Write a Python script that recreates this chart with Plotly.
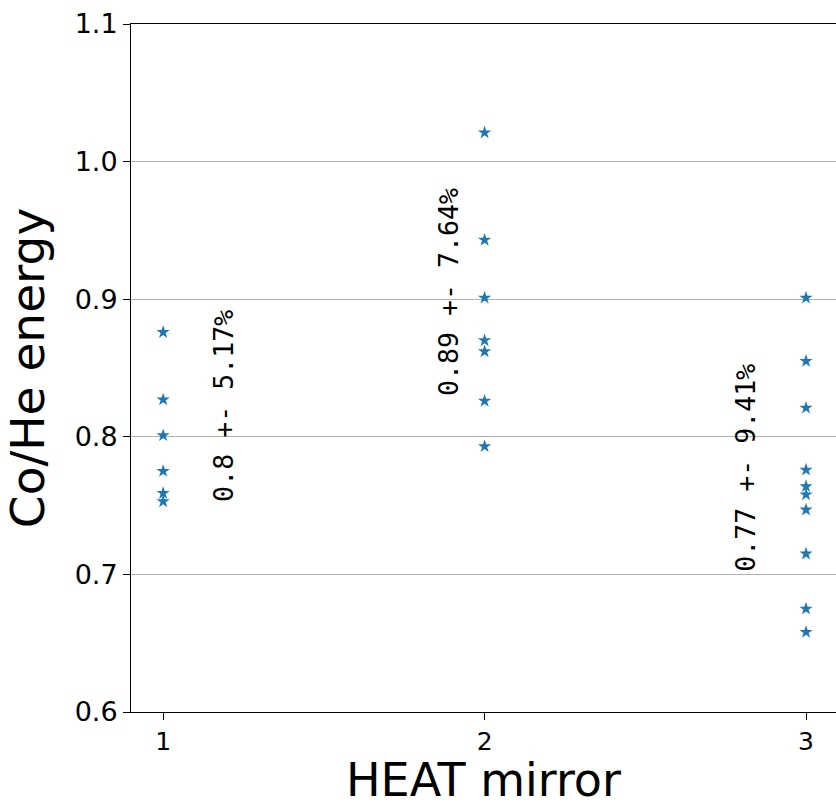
import plotly.graph_objects as go

# Measured Co/He energy ratio for each HEAT mirror
mirror_ids = [1, 2, 3]
mirror1_energy = [0.876, 0.827, 0.801, 0.775, 0.759, 0.753]
mirror2_energy = [1.021, 0.943, 0.901, 0.870, 0.862, 0.826, 0.793]
mirror3_energy = [0.901, 0.855, 0.821, 0.776, 0.764, 0.758, 0.747, 0.715, 0.675, 0.658]

# Mean +- relative spread labels shown next to each mirror
summary_labels = ["0.8 +- 5.17%", "0.89 +- 7.64%", "0.77 +- 9.41%"]
label_x = [1.189, 1.888, 2.811]
label_y = [0.8224, 0.9049, 0.7777]

y_ticks = [0.6, 0.7, 0.8, 0.9, 1.0, 1.1]

series = [mirror1_energy, mirror2_energy, mirror3_energy]

fig = go.Figure()
xs, ys = [], []
for mid, vals in zip(mirror_ids, series):
    xs += [mid] * len(vals)
    ys += vals
fig.add_trace(go.Scatter(
    x=xs, y=ys, mode="markers",
    marker=dict(symbol="star", size=10, color="#1f77b4", line=dict(width=0)),
    showlegend=False,
))

for txt, lx, ly in zip(summary_labels, label_x, label_y):
    fig.add_annotation(
        x=lx, y=ly, xref="x", yref="y", text=txt, showarrow=False,
        textangle=-90, xanchor="center", yanchor="middle",
        font=dict(family="DejaVu Sans Mono", size=26.6, color="black"),
    )

# x-axis title placed as paper-anchored text just under the tick labels
fig.add_annotation(
    x=0.5, y=-0.057, xref="paper", yref="paper", text="HEAT mirror",
    showarrow=False, xanchor="center", yanchor="top",
    font=dict(family="DejaVu Sans", size=46, color="black"),
)

fig.update_layout(
    width=836, height=806,
    margin=dict(l=131, r=0, t=24, b=94),
    plot_bgcolor="white", paper_bgcolor="white",
    font=dict(family="DejaVu Sans", color="black"),
)
fig.update_xaxes(
    range=[0.9, 3.0932],
    tickvals=mirror_ids, ticktext=[str(m) for m in mirror_ids],
    ticks="outside", ticklen=7, tickwidth=1, tickcolor="black",
    showline=True, linecolor="black", linewidth=1, mirror=True,
    showgrid=False, zeroline=False,
    tickfont=dict(size=25),
)
fig.update_yaxes(
    range=[0.6, 1.1],
    tickvals=y_ticks, ticktext=[f"{v:.1f}" for v in y_ticks],
    ticks="outside", ticklen=7, tickwidth=1, tickcolor="black",
    showline=True, linecolor="black", linewidth=1, mirror=False,
    showgrid=True, gridcolor="#b0b0b0", gridwidth=1,
    zeroline=False,
    tickfont=dict(size=27),
    title=dict(text="Co/He energy", font=dict(size=47), standoff=16),
)

fig.write_html("out.html")
